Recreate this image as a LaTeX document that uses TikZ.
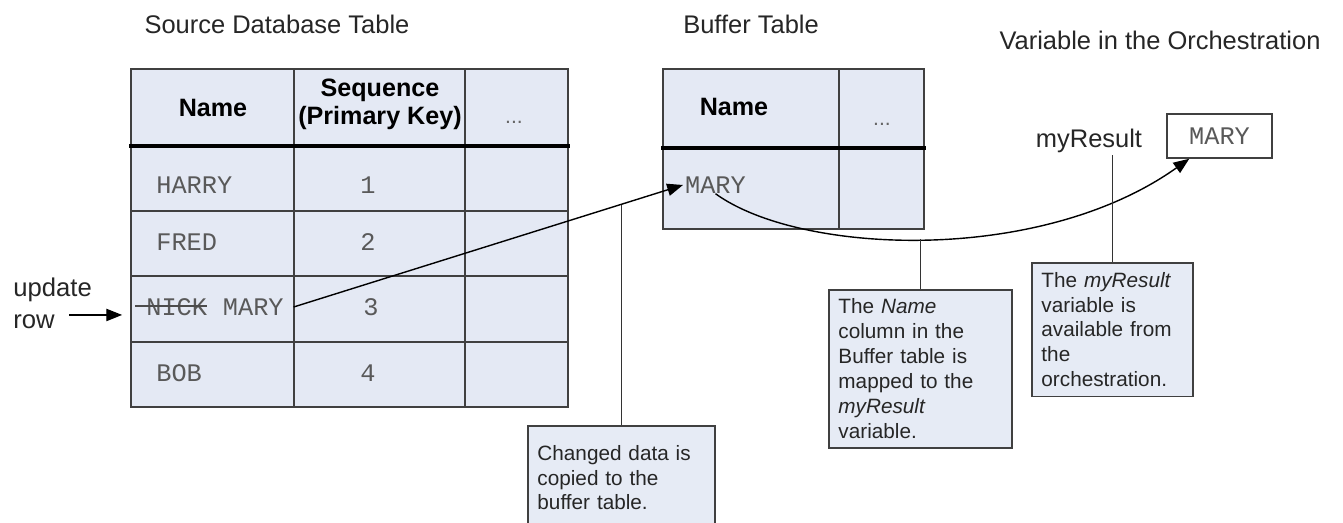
\documentclass[tikz,border=0pt]{standalone}
\usepackage{fontspec}
\setmainfont{Liberation Sans}
\setmonofont{Liberation Mono}
\usetikzlibrary{positioning,calc,arrows.meta}
\definecolor{cellblue}{HTML}{E4E9F4}
\definecolor{noteblue}{HTML}{E6EBF5}
\definecolor{rulegray}{HTML}{404040}
\tikzset{
title/.style={font=\fontsize{14.5}{17}\selectfont, text=black!85, inner sep=0pt},
colhead/.style={font=\fontsize{14.3}{15.9}\selectfont\bfseries, align=center, inner sep=0pt},
dots/.style={font=\fontsize{12}{14}\selectfont, text=black!60, inner sep=0pt},
cellmono/.style={font=\fontsize{14.4}{16}\selectfont\ttfamily, text=black!65, inner sep=0pt},
gridline/.style={draw=rulegray, line width=0.85pt},
headline/.style={draw=black, line width=2.4pt},
pointer/.style={draw=black, line width=0.8pt, -{Triangle[length=9pt,width=7pt]}},
leader/.style={draw=black!80, line width=0.7pt},
strike/.style={draw=black!70, line width=0.8pt},
note/.style={draw=rulegray, line width=0.9pt, fill=noteblue, align=left, anchor=north west, inner xsep=5.5pt, inner ysep=0pt, font=\fontsize{11.8}{14.2}\selectfont, text=black!85},
}

\begin{document}
\begin{tikzpicture}[x=0.02cm, y=-0.02cm]
\clip (0,0) rectangle (1343,523);
\fill[white] (0,0) rectangle (1343,523);

\node[title] (srctitle) at (277,24) {Source Database Table};
\node[title] (buftitle) at (751,24) {Buffer Table};
\node[title] (vartitle) at (1160,40) {Variable in the Orchestration};

\fill[cellblue] (131,69) rectangle (568,407);
\foreach \y in {211,276,342} \draw[gridline] (131,\y) -- (568,\y);
\foreach \x in {294,465} \draw[gridline] (\x,69) -- (\x,407);
\draw[gridline] (131,69) rectangle (568,407);
\draw[headline] (129,146) -- (570,146);

\fill[cellblue] (663,69) rectangle (924,229);
\draw[gridline] (839,69) -- (839,229);
\draw[gridline] (663,69) rectangle (924,229);
\draw[headline] (661,148) -- (926,148);

\node[colhead] (srcname) at (213,108) {Name};
\node[colhead] (srcseq) at (380,104) {Sequence\\(Primary Key)};
\node[dots] (srcdots) at (514,122) {...};
\node[colhead] (bufname) at (734,107) {Name};
\node[dots] (bufdots) at (882,124) {...};

\node[cellmono, anchor=west] (harry) at (156,185) {HARRY};
\node[cellmono, anchor=west] (fred) at (156,242) {FRED};
\node[cellmono, anchor=west] (nick) at (146,307) {NICK};
\node[cellmono, inner xsep=5.5pt, right=3.1pt of nick] (newname) {MARY};
\node[cellmono, anchor=west] (bob) at (156,373) {BOB};
\node[cellmono] (seq1) at (368,185) {1};
\node[cellmono] (seq2) at (368,242) {2};
\node[cellmono] (seq3) at (371,307) {3};
\node[cellmono] (seq4) at (368,373) {4};
\draw[strike] ([xshift=-6pt,yshift=0.6pt]nick.west) -- ([yshift=0.6pt]nick.east);

\node[cellmono, inner xsep=1pt, anchor=west] (bmary) at (683,185) {MARY};

\node[title, anchor=base] (myres) at (1089,148) {myResult};
\node[cellmono, draw=rulegray, line width=0.9pt, fill=white, minimum width=59.5pt, minimum height=25pt] (varbox) at (1219.5,136) {MARY};

\node[title, align=left, anchor=west, font=\fontsize{14.6}{18}\selectfont] (updlbl) at (13,290) {update};
\node[title, align=left, anchor=west, font=\fontsize{14.6}{18}\selectfont] (rowlbl) at (13,322) {row};

\node[note, text width=95.6pt, minimum height=59pt] (changed) at (527,425) {Changed data is\\copied to the\\buffer table.};
\node[note, text width=93.3pt, minimum height=90.1pt] (mapnote) at (828,289) {The \textit{Name}\\column in the\\Buffer table is\\mapped to the\\\textit{myResult}\\variable.};
\node[note, text width=80.8pt, minimum height=76pt] (availnote) at (1031,262) {The \textit{myResult}\\variable is\\available from\\the\\orchestration.};

\draw[pointer, shorten <=8pt, shorten >=13.6pt] ([yshift=4pt]rowlbl.east) -- ([yshift=4pt]rowlbl.east -| nick.west);
\draw[pointer] (newname.east) -- (bmary.west) coordinate[pos=0.838] (copypt);
\draw[pointer] (bmary.south) .. controls (800,255) and (1040,265) .. ([xshift=13pt]varbox.south west) coordinate[pos=0.48] (mapcurve);

\draw[leader] (changed.north) -- (changed.north |- copypt);
\draw[leader] (mapnote.north) -- (mapnote.north |- mapcurve);
\draw[leader] (availnote.north) -- ([yshift=-4pt]availnote.north |- myres.base);
\end{tikzpicture}
\end{document}
